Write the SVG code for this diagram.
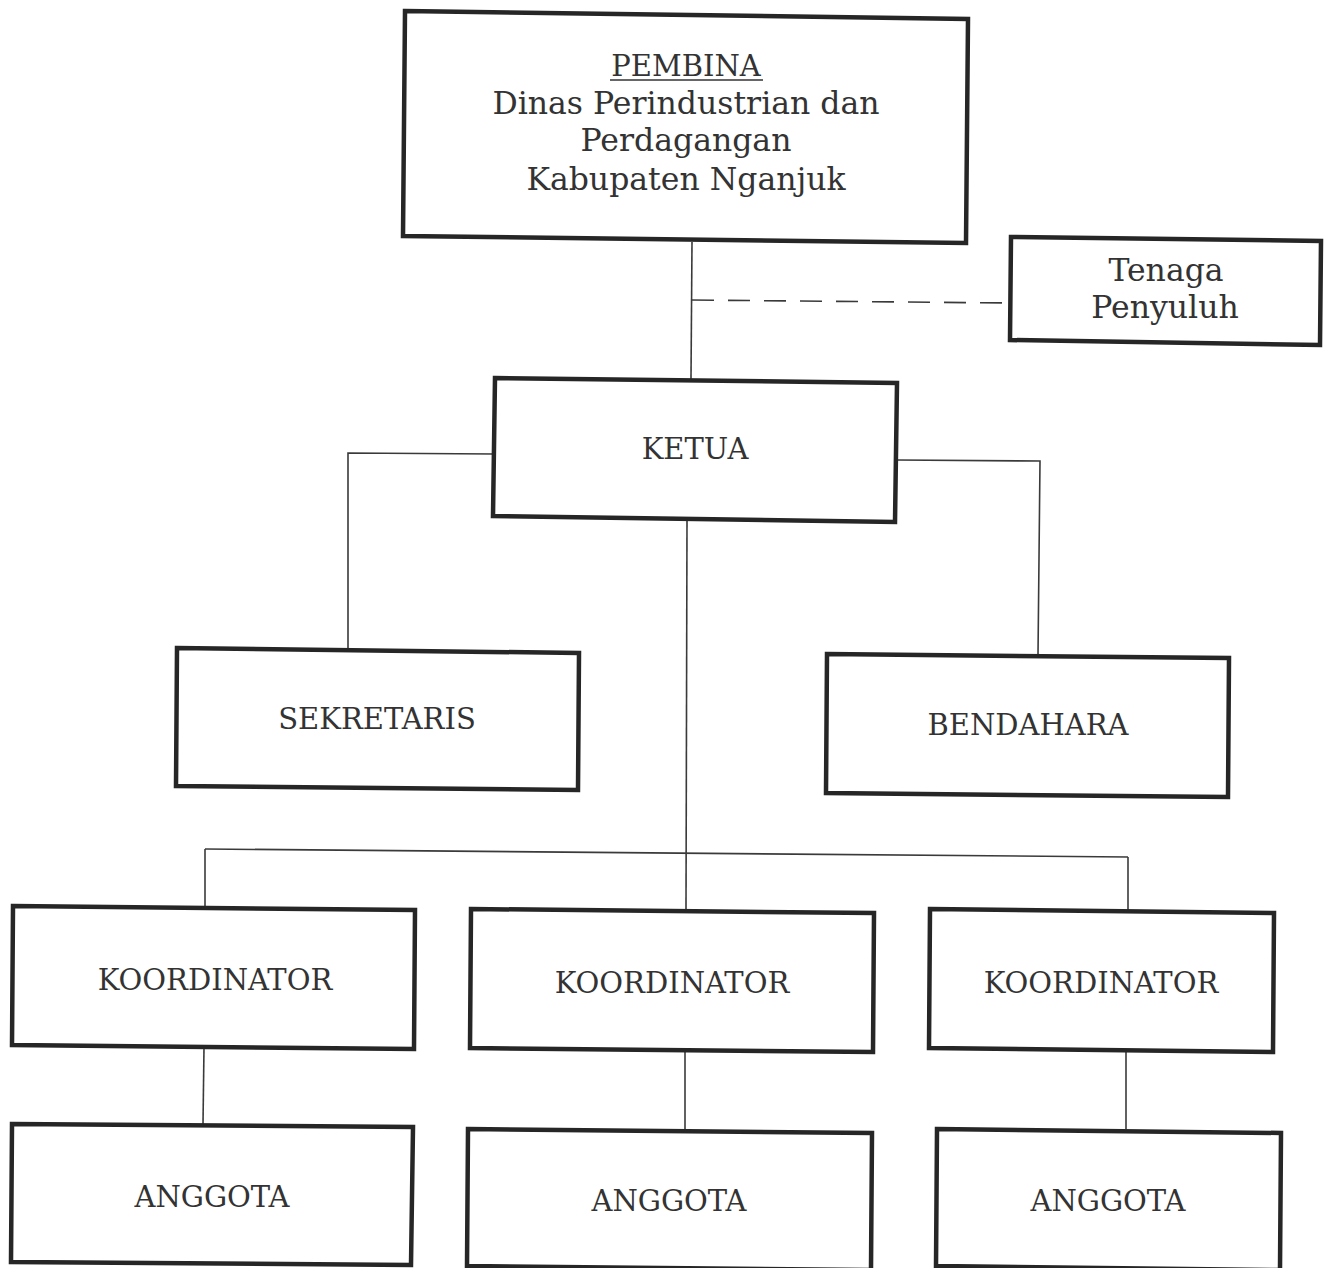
<svg xmlns="http://www.w3.org/2000/svg" width="1325" height="1268" viewBox="0 0 1325 1268">
<style>
.box{fill:#fff;stroke:#262626;stroke-width:4.5;stroke-linejoin:miter}
.ln{fill:none;stroke:#3a3a3a;stroke-width:1.6}
.dash{fill:none;stroke:#3a3a3a;stroke-width:1.6;stroke-dasharray:22 14}
text{font-family:"DejaVu Serif","Liberation Serif",serif;font-size:29px;fill:#333;text-anchor:middle}
.lc{font-size:31.5px}
</style>
<rect width="1325" height="1268" fill="#fff"/>
<g id="connectors">
<line class="ln" x1="692" y1="242" x2="691" y2="379"/>
<line class="dash" x1="692" y1="300" x2="1010" y2="303"/>
<polyline class="ln" points="495,454 348,453 348,648"/>
<polyline class="ln" points="897,460 1040,461 1038,655"/>
<line class="ln" x1="687" y1="521" x2="686" y2="909"/>
<line class="ln" x1="205" y1="849" x2="1128" y2="857"/>
<line class="ln" x1="205" y1="849" x2="205" y2="906"/>
<line class="ln" x1="1128" y1="857" x2="1128" y2="910"/>
<line class="ln" x1="204" y1="1047" x2="203" y2="1124"/>
<line class="ln" x1="685" y1="1050" x2="685" y2="1129"/>
<line class="ln" x1="1126" y1="1050" x2="1126" y2="1129"/>
</g>
<g id="pembina">
<polygon class="box" points="405,11 968,19 966,243 403,236"/>
<text x="686" y="76">PEMBINA</text>
<line x1="610" y1="80" x2="763" y2="80" stroke="#333" stroke-width="1.6"/>
<text class="lc" x="686" y="114">Dinas Perindustrian dan</text>
<text class="lc" x="686" y="151">Perdagangan</text>
<text class="lc" x="686" y="190">Kabupaten Nganjuk</text>
</g>
<g id="tenaga-penyuluh">
<polygon class="box" points="1011,237 1321,241 1320,345 1010,340"/>
<text class="lc" x="1166" y="281">Tenaga</text>
<text class="lc" x="1165" y="318">Penyuluh</text>
</g>
<g id="ketua">
<polygon class="box" points="495,378 897,383 895,522 493,516"/>
<text x="695" y="459">KETUA</text>
</g>
<g id="sekretaris">
<polygon class="box" points="177,648 579,653 578,790 176,786"/>
<text x="377" y="729">SEKRETARIS</text>
</g>
<g id="bendahara">
<polygon class="box" points="827,654 1229,658 1228,797 826,793"/>
<text x="1028" y="735">BENDAHARA</text>
</g>
<g id="koordinator-1">
<polygon class="box" points="13,906 415,910 414,1049 12,1045"/>
<text x="215" y="990">KOORDINATOR</text>
</g>
<g id="koordinator-2">
<polygon class="box" points="471,909 874,913 873,1052 470,1048"/>
<text x="672" y="993">KOORDINATOR</text>
</g>
<g id="koordinator-3">
<polygon class="box" points="930,909 1274,913 1273,1052 929,1048"/>
<text x="1101" y="993">KOORDINATOR</text>
</g>
<g id="anggota-1">
<polygon class="box" points="12,1124 413,1127 411,1265 11,1262"/>
<text x="212" y="1207">ANGGOTA</text>
</g>
<g id="anggota-2">
<polygon class="box" points="468,1129 872,1133 871,1270 467,1266"/>
<text x="669" y="1211">ANGGOTA</text>
</g>
<g id="anggota-3">
<polygon class="box" points="937,1129 1281,1133 1280,1270 936,1266"/>
<text x="1108" y="1211">ANGGOTA</text>
</g>
</svg>
